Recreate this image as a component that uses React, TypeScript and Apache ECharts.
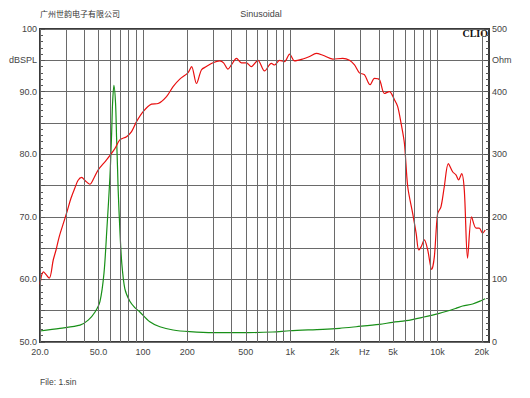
import React, { useEffect, useRef } from 'react';
import * as echarts from 'echarts';

// SPL response (Hz, dB SPL) - left axis
const splFreq = [20, 21.1, 23.1, 24.6, 25.7, 27.0, 28.6, 30.5, 32.5, 34.5, 36.2, 38.4, 40.4, 43.6, 46.5, 49.7, 56.6, 64.5, 69.7, 77.4, 83.7, 90.5, 100.3, 114.3, 126.8, 144.6, 160.3, 178, 202, 214, 231, 250, 270, 299, 332, 353, 378, 400, 432, 466, 504, 545, 604, 670, 745, 784, 847, 916, 991, 1071, 1219, 1355, 1503, 1667, 1946, 2275, 2529, 2735, 2953, 3192, 3491, 3734, 4037, 4366, 4721, 5105, 5373, 5668, 5970, 6286, 6796, 7166, 7465, 7746, 8150, 8590, 9140, 9528, 10030, 10570, 11130, 11860, 12680, 13360, 13930, 14600, 15220, 16020, 17060, 18270, 19230, 20240, 21110];
const splDb = [59.2, 61.2, 60.2, 63.1, 64.7, 66.8, 68.7, 70.8, 73.0, 74.6, 75.8, 76.3, 75.8, 75.2, 76.2, 77.5, 79.1, 80.9, 82.3, 82.8, 83.6, 85.2, 86.8, 88.0, 88.1, 89.2, 90.8, 92.0, 93.0, 94.0, 91.3, 93.5, 94.0, 94.6, 94.9, 94.6, 93.6, 94.3, 95.3, 94.6, 94.6, 94.0, 95.0, 93.3, 94.5, 94.25, 95.0, 94.8, 96.0, 94.9, 95.2, 95.6, 96.1, 95.8, 95.2, 95.3, 95.0, 94.25, 93.0, 92.7, 91.1, 92.1, 91.9, 89.7, 90.0, 88.7, 87.6, 84.9, 81.7, 74.8, 70.5, 67.4, 64.7, 65.2, 66.3, 64.7, 61.6, 63.6, 70.5, 71.6, 74.8, 78.5, 77.2, 76.7, 75.9, 76.9, 74.3, 63.4, 70.0, 68.2, 68.2, 67.4, 67.9];

// Impedance (Hz, Ohm) - right axis
const impFreq = [20, 27.3, 37.4, 42.5, 47.3, 51.1, 54.4, 56.9, 59.7, 61.3, 62.2, 63.5, 65.2, 66.2, 67.3, 67.9, 69.7, 71.9, 75.4, 81.5, 88.1, 95.3, 111.4, 130.3, 160.3, 208, 299, 454, 764, 991, 1667, 2163, 2806, 4037, 4969, 6125, 7943, 10300, 13360, 14830, 17340, 20240, 21110];
const impOhm = [17.6, 21.9, 27, 35, 48, 65, 110, 180, 264, 333, 381, 410, 381, 328, 275, 243, 180, 125, 85, 65, 55, 48, 32.4, 24.4, 19.2, 16.5, 14.9, 14.9, 16, 18, 20.3, 21.9, 24.4, 28.2, 31.5, 34, 39.5, 45.8, 53.8, 57.5, 60.7, 67, 69];

const xGridFreqs = [20, 30, 40, 50, 60, 70, 80, 90, 100, 200, 300, 400, 500, 600, 700, 800, 900, 1000, 2000, 3000, 4000, 5000, 6000, 7000, 8000, 9000, 10000, 20000];
const xLabelFreqs = [20, 50, 100, 200, 500, 1000, 2000, 3000, 5000, 10000, 20000];
const xLabelTexts = ['20.0', '50.0', '100', '200', '500', '1k', '2k', 'Hz', '5k', '10k', '20k'];

const FONT = "'Liberation Sans', Arial, sans-serif";
const LABEL_COLOR = '#444';

export default function App() {
  const ref = useRef<HTMLDivElement>(null);
  useEffect(() => {
    if (!ref.current) return;
    const chart = echarts.init(ref.current, null, { renderer: 'svg' });
    const lineData = xGridFreqs.map((f) => {
      const li = xLabelFreqs.indexOf(f);
      return {
        xAxis: f,
        label:
          li >= 0
            ? {
                show: true,
                position: 'start',
                formatter: xLabelTexts[li],
                color: LABEL_COLOR,
                fontSize: 9,
                fontFamily: FONT,
                distance: 5,
                offset: xLabelTexts[li] === 'Hz' ? [4, 0] : [0, 0],
              }
            : { show: false },
      };
    });
    chart.setOption({
      animation: false,
      backgroundColor: '#fff',
      grid: { left: 40, right: 41, top: 29, bottom: 56, show: true, borderColor: '#3a3a3a', borderWidth: 2, backgroundColor: 'transparent' },
      xAxis: {
        type: 'log',
        logBase: 10,
        min: 20,
        max: 22400,
        axisLabel: { show: false },
        axisTick: { show: false },
        splitLine: { show: false },
        minorSplitLine: { show: false },
        axisLine: { show: false },
      },
      yAxis: [
        {
          type: 'value',
          min: 50,
          max: 100,
          interval: 5,
          position: 'left',
          axisLine: { show: true, lineStyle: { color: '#3a3a3a', width: 2 } },
          axisTick: { show: true, inside: true, length: 5, lineStyle: { color: '#555' } },
          minorTick: { show: true, splitNumber: 5, length: 3, lineStyle: { color: '#555' } },
          splitLine: { show: true, lineStyle: { color: '#6a6a6a', width: 1 } },
          axisLabel: {
            margin: 3,
            color: LABEL_COLOR,
            fontSize: 9,
            fontFamily: FONT,
            formatter: (v: number) => (v === 100 ? '100' : v === 95 ? 'dBSPL' : v % 10 === 0 ? v.toFixed(1) : ''),
          },
        },
        {
          type: 'value',
          min: 0,
          max: 500,
          interval: 50,
          position: 'right',
          axisLine: { show: true, lineStyle: { color: '#3a3a3a', width: 2 } },
          axisTick: { show: true, inside: true, length: 5, lineStyle: { color: '#555' } },
          minorTick: { show: true, splitNumber: 5, length: 3, lineStyle: { color: '#555' } },
          splitLine: { show: false },
          axisLabel: {
            margin: 3,
            color: LABEL_COLOR,
            fontSize: 9,
            fontFamily: FONT,
            formatter: (v: number) => (v === 450 ? 'Ohm' : v % 100 === 0 ? String(v) : ''),
          },
        },
      ],
      series: [
        {
          type: 'line',
          name: 'grid',
          data: [],
          z: 1,
          silent: true,
          markLine: {
            silent: true,
            symbol: 'none',
            animation: false,
            lineStyle: { color: '#6a6a6a', type: 'solid', width: 1 },
            data: lineData,
          },
        },
        {
          type: 'line',
          name: 'SPL',
          yAxisIndex: 0,
          z: 3,
          showSymbol: false,
          smooth: 0.3,
          lineStyle: { color: '#e81010', width: 1.2 },
          data: splFreq.map((f, i) => [f, splDb[i]]),
        },
        {
          type: 'line',
          name: 'Impedance',
          yAxisIndex: 1,
          z: 2,
          showSymbol: false,
          smooth: 0.3,
          lineStyle: { color: '#189018', width: 1.2 },
          data: impFreq.map((f, i) => [f, impOhm[i]]),
        },
      ],
      graphic: [
        { type: 'text', left: 40, top: 9, style: { text: '广州世韵电子有限公司', fontSize: 8, fill: '#333', fontFamily: "'Noto Sans CJK SC', sans-serif" } },
        { type: 'text', x: 261, y: 14, style: { text: 'Sinusoidal', fontSize: 9, fill: '#444', fontFamily: FONT, align: 'center', verticalAlign: 'middle' } },
        { type: 'text', x: 488, y: 33, style: { text: 'CLIO', fontSize: 10, fontWeight: 'bold', fill: '#111', fontFamily: "'Liberation Serif', 'DejaVu Serif', serif", align: 'right', verticalAlign: 'middle' } },
        { type: 'text', x: 40, y: 382, style: { text: 'File: 1.sin', fontSize: 8.5, fill: '#444', fontFamily: FONT, verticalAlign: 'middle' } },
      ],
    });
    return () => chart.dispose();
  }, []);
  return <div ref={ref} style={{ position: 'absolute', left: 0, top: 0, width: 530, height: 398 }} />;
}
